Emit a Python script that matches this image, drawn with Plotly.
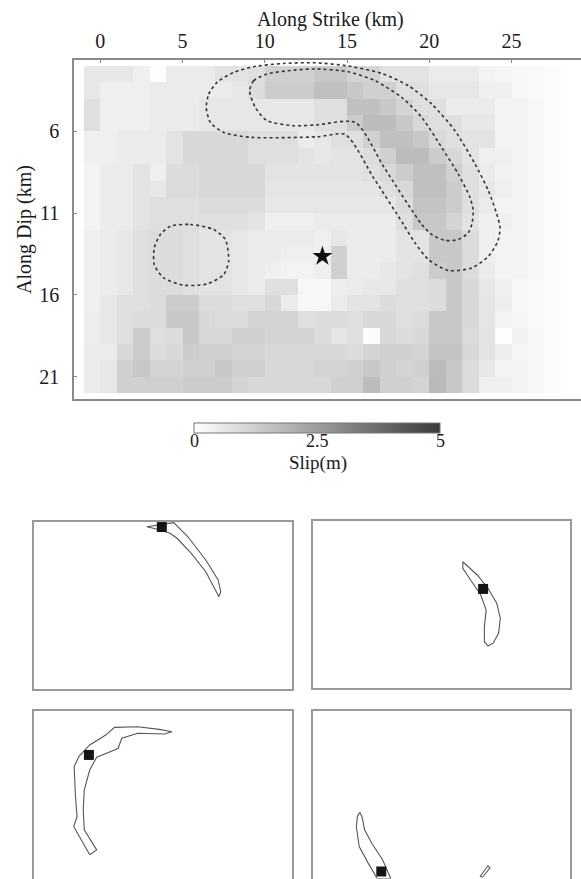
import plotly.graph_objects as go

# ---------------- data ----------------
strike_centers = [-0.5, 0.5, 1.5, 2.5, 3.5, 4.5, 5.5, 6.5, 7.5, 8.5, 9.5, 10.5, 11.5, 12.5,
                  13.5, 14.5, 15.5, 16.5, 17.5, 18.5, 19.5, 20.5, 21.5, 22.5, 23.5, 24.5,
                  25.5, 26.5, 27.5]
dip_centers = [2.5, 3.5, 4.5, 5.5, 6.5, 7.5, 8.5, 9.5, 10.5, 11.5, 12.5, 13.5, 14.5, 15.5,
               16.5, 17.5, 18.5, 19.5, 20.5, 21.5]

slip = [
    [0.6, 0.6, 0.6, 0.4, 0.05, 0.5, 0.5, 0.5, 0.7, 0.7, 0.8, 1.2, 1.2, 1.2, 1.4, 1.4, 1.1, 1.1, 0.7, 0.7, 0.7, 0.5, 0.5, 0.5, 0.3, 0.25, 0.2, 0.15, 0.1],
    [0.6, 0.4, 0.4, 0.4, 0.5, 0.5, 0.5, 0.5, 0.5, 0.6, 0.9, 1.3, 1.3, 1.3, 1.6, 1.6, 1.4, 1.2, 1.2, 0.8, 0.8, 0.6, 0.6, 0.6, 0.4, 0.4, 0.2, 0.15, 0.1],
    [0.8, 0.4, 0.4, 0.4, 0.5, 0.5, 0.5, 0.6, 0.6, 0.6, 0.6, 0.6, 0.6, 0.6, 0.8, 0.8, 1.6, 1.6, 1.4, 1.1, 0.8, 0.8, 0.5, 0.5, 0.5, 0.3, 0.3, 0.2, 0.1],
    [0.8, 0.4, 0.4, 0.4, 0.5, 0.5, 0.5, 0.6, 0.6, 0.6, 0.6, 0.6, 0.6, 0.6, 0.8, 0.8, 1.3, 1.7, 1.7, 1.4, 1.0, 0.8, 0.8, 0.6, 0.6, 0.3, 0.3, 0.2, 0.1],
    [0.4, 0.4, 0.5, 0.5, 0.5, 0.7, 1.0, 1.0, 1.0, 1.0, 0.8, 0.8, 0.8, 0.5, 0.6, 0.8, 0.8, 1.2, 1.6, 1.6, 1.4, 1.0, 0.8, 0.7, 0.7, 0.3, 0.3, 0.2, 0.1],
    [0.4, 0.4, 0.5, 0.5, 0.5, 0.7, 1.0, 1.0, 1.0, 1.0, 0.8, 0.8, 0.8, 0.7, 0.6, 0.7, 0.7, 0.9, 1.2, 1.7, 1.7, 1.3, 1.0, 0.7, 0.4, 0.4, 0.3, 0.2, 0.1],
    [0.3, 0.5, 0.5, 0.7, 0.4, 0.9, 0.9, 1.0, 1.0, 1.0, 1.0, 0.7, 0.7, 0.7, 0.7, 0.7, 0.7, 0.8, 1.0, 1.3, 1.6, 1.6, 1.2, 0.8, 0.5, 0.35, 0.3, 0.2, 0.1],
    [0.3, 0.5, 0.5, 0.7, 0.6, 0.9, 0.9, 1.0, 1.0, 1.0, 1.0, 0.65, 0.65, 0.65, 0.65, 0.65, 0.65, 0.65, 0.8, 1.0, 1.6, 1.6, 1.3, 0.8, 0.6, 0.4, 0.3, 0.2, 0.1],
    [0.3, 0.5, 0.5, 0.7, 0.8, 0.8, 0.8, 0.9, 0.9, 0.9, 0.9, 0.6, 0.6, 0.6, 0.6, 0.6, 0.6, 0.6, 0.6, 0.9, 1.5, 1.5, 1.3, 0.8, 0.5, 0.3, 0.3, 0.2, 0.1],
    [0.3, 0.5, 0.5, 0.7, 0.8, 0.8, 0.8, 0.8, 0.8, 0.8, 0.7, 0.4, 0.4, 0.4, 0.5, 0.5, 0.5, 0.5, 0.5, 0.8, 1.4, 1.4, 1.1, 0.7, 0.4, 0.4, 0.3, 0.2, 0.1],
    [0.4, 0.5, 0.6, 0.8, 0.9, 0.9, 0.8, 0.7, 0.7, 0.6, 0.5, 0.5, 0.5, 0.5, 0.4, 0.6, 0.5, 0.5, 0.5, 0.7, 0.7, 1.4, 1.4, 0.9, 0.4, 0.3, 0.3, 0.2, 0.1],
    [0.4, 0.5, 0.6, 0.8, 0.9, 0.9, 0.8, 0.7, 0.7, 0.6, 0.5, 0.5, 0.4, 0.4, 0.4, 1.2, 0.5, 0.5, 0.5, 0.7, 0.7, 1.4, 1.4, 0.9, 0.4, 0.3, 0.3, 0.2, 0.1],
    [0.4, 0.5, 0.6, 0.8, 0.9, 0.9, 0.8, 0.7, 0.7, 0.6, 0.5, 0.4, 0.3, 0.3, 0.4, 1.2, 0.5, 0.5, 0.6, 0.7, 0.8, 1.3, 1.4, 0.9, 0.5, 0.3, 0.3, 0.2, 0.1],
    [0.4, 0.5, 0.6, 0.8, 0.9, 0.9, 0.8, 0.7, 0.7, 0.6, 0.5, 0.8, 0.8, 0.2, 0.2, 0.45, 0.5, 0.6, 0.6, 0.8, 0.8, 0.9, 1.4, 1.0, 0.6, 0.4, 0.2, 0.15, 0.1],
    [0.4, 0.6, 0.8, 0.8, 0.9, 1.3, 1.3, 0.9, 0.9, 0.8, 0.8, 1.0, 0.5, 0.2, 0.2, 0.5, 0.7, 0.7, 0.9, 0.8, 0.8, 0.9, 1.4, 1.0, 0.65, 0.45, 0.2, 0.15, 0.1],
    [0.45, 0.6, 0.8, 0.9, 0.9, 1.4, 1.4, 1.0, 0.9, 0.9, 1.1, 1.1, 1.1, 0.8, 0.9, 0.9, 0.8, 1.0, 1.0, 0.8, 0.9, 1.4, 1.4, 1.0, 0.65, 0.3, 0.25, 0.15, 0.1],
    [0.45, 0.6, 0.8, 1.3, 0.8, 0.9, 1.4, 1.0, 1.0, 1.2, 1.2, 1.1, 1.1, 1.1, 0.9, 0.65, 0.8, 0.1, 1.0, 0.9, 1.0, 1.4, 1.4, 0.9, 0.7, 0.05, 0.35, 0.2, 0.1],
    [0.5, 0.5, 1.0, 1.3, 0.9, 1.0, 1.3, 1.2, 1.2, 1.1, 1.1, 1.0, 1.0, 1.0, 1.0, 1.0, 0.9, 1.1, 1.2, 1.2, 1.1, 1.5, 1.5, 1.0, 0.7, 0.45, 0.25, 0.2, 0.1],
    [0.5, 0.6, 1.2, 1.4, 1.1, 1.1, 1.2, 1.2, 1.4, 1.2, 1.2, 1.0, 1.0, 1.0, 1.1, 1.1, 1.2, 1.4, 1.2, 1.1, 1.2, 1.7, 1.4, 0.9, 0.6, 0.3, 0.3, 0.2, 0.1],
    [0.5, 0.6, 1.2, 1.2, 1.2, 1.2, 1.3, 1.3, 1.3, 1.1, 1.0, 1.0, 1.0, 1.0, 1.0, 1.2, 1.2, 1.7, 1.2, 1.2, 1.1, 1.75, 1.4, 0.9, 0.4, 0.4, 0.3, 0.2, 0.1],
]

x_ticks = [0, 5, 10, 15, 20, 25]
y_ticks = [6, 11, 16, 21]
cbar_ticks = [0, 2.5, 5]
cbar_labels = ["0", "2.5", "5"]
slip_max = 5

# contours (km along strike, km along dip)
outer_x = [6.44, 6.59, 7.09, 8.11, 9.32, 11.15, 13.1, 15.08, 17.1, 18.72, 20.15, 21.56, 22.78,
           23.59, 24.1, 24.3, 24.16, 23.59, 22.58, 21.16, 19.95, 19.13, 18.43, 16.6, 14.9,
           13.17, 9.12, 7.5, 6.69, 6.44]
outer_y = [4.53, 3.72, 3.0, 2.39, 2.04, 1.84, 1.8, 2.0, 2.45, 3.2, 4.33, 5.96, 8.0,
           9.63, 11.06, 11.9, 12.72, 13.64, 14.35, 14.51, 13.84, 12.82, 11.69, 8.82, 6.2,
           6.33, 6.36, 6.06, 5.45, 4.53]
inner_x = [9.08, 9.32, 10.13, 11.75, 13.1, 15.08, 16.7, 18.32, 19.54, 20.75, 21.76, 22.47,
           22.67, 22.58, 22.37, 21.76, 20.95, 20.15, 19.54, 17.25, 15.5, 13.17, 11.75, 10.13,
           9.42, 9.08]
inner_y = [3.5, 2.9, 2.49, 2.25, 2.18, 2.35, 2.9, 3.92, 5.14, 6.98, 8.61, 10.04,
           10.86, 11.69, 12.2, 12.61, 12.67, 12.31, 11.69, 8.2, 5.45, 5.6, 5.65, 5.34,
           4.53, 3.5]
loop_x = [4.26, 5.47, 6.89, 7.6, 7.8, 7.5, 6.49, 5.07, 3.85, 3.28, 3.28, 3.65, 4.26]
loop_y = [11.8, 11.69, 12.0, 12.61, 13.94, 14.76, 15.33, 15.41, 14.96, 14.15, 13.12, 12.31, 11.8]

hypo_x = [13.5]
hypo_y = [13.64]

# small panels: outline (fraction of panel width, fraction of panel height from top)
p1_u = [0.438, 0.542, 0.597, 0.666, 0.714, 0.724, 0.717, 0.704, 0.666, 0.610, 0.555, 0.528, 0.479, 0.438]
p1_v = [0.030, 0.006, 0.090, 0.229, 0.348, 0.418, 0.448, 0.408, 0.299, 0.189, 0.099, 0.069, 0.045, 0.030]
p1_sq = ([0.496], [0.032])

p2_u = [0.583, 0.639, 0.681, 0.715, 0.729, 0.722, 0.701, 0.681, 0.667, 0.667, 0.674, 0.653, 0.618, 0.583, 0.583]
p2_v = [0.245, 0.324, 0.403, 0.493, 0.582, 0.672, 0.731, 0.748, 0.722, 0.632, 0.533, 0.443, 0.364, 0.284, 0.245]
p2_sq = ([0.662], [0.407])

p3_u = [0.217, 0.155, 0.168, 0.162, 0.157, 0.175, 0.217, 0.279, 0.313, 0.403, 0.486, 0.535, 0.507,
        0.403, 0.341, 0.327, 0.313, 0.244, 0.217, 0.196, 0.192, 0.196, 0.244, 0.217]
p3_v = [0.858, 0.689, 0.630, 0.510, 0.331, 0.271, 0.201, 0.142, 0.096, 0.092, 0.108, 0.122, 0.136,
        0.131, 0.161, 0.221, 0.231, 0.275, 0.351, 0.470, 0.590, 0.709, 0.829, 0.858]
p3_sq = ([0.214], [0.261])

p4_u = [0.180, 0.173, 0.169, 0.180, 0.215, 0.250, 0.303, 0.271, 0.229, 0.201, 0.191, 0.183, 0.180]
p4_v = [0.609, 0.630, 0.689, 0.809, 0.908, 1.0, 1.0, 0.888, 0.789, 0.709, 0.630, 0.606, 0.609]
p4b_u = [0.650, 0.681, 0.689, 0.660, 0.650]
p4b_v = [0.988, 0.924, 0.938, 0.991, 0.988]
p4_sq = ([0.266], [0.958])

# ---------------- figure ----------------
W, H = 581, 879
FONT = "Liberation Serif, Times New Roman, serif"
TXT = "#1a1a1a"
FRAME = "#8a8a8a"

CB_CENTER, CB_LEN, CB_TOP = 317.5, 246, 422.7

fig = go.Figure()

fig.add_trace(go.Heatmap(
    x=strike_centers, y=dip_centers, z=slip, zmin=0, zmax=slip_max,
    colorscale=[[0, "#ffffff"], [1, "#3a3a3a"]],
    xaxis="x", yaxis="y", hoverinfo="skip",
    colorbar=dict(
        orientation="h", x=CB_CENTER / W, xanchor="center", y=1 - CB_TOP / H, yanchor="top",
        len=CB_LEN, lenmode="pixels", thickness=10, thicknessmode="pixels",
        outlinecolor="#777777", outlinewidth=1, xpad=0, ypad=0,
        tickvals=cbar_ticks, ticks="", showticklabels=False,
    ),
))

contour_line = dict(color="#333333", width=1.6, dash="dot", shape="spline", smoothing=0.7)
for cx, cy in [(outer_x, outer_y), (inner_x, inner_y), (loop_x, loop_y)]:
    fig.add_trace(go.Scatter(x=cx, y=cy, mode="lines", line=contour_line,
                             xaxis="x", yaxis="y", showlegend=False, hoverinfo="skip"))

fig.add_trace(go.Scatter(x=hypo_x, y=hypo_y, mode="markers",
                         marker=dict(symbol="star", size=15, color="#111111"),
                         xaxis="x", yaxis="y", showlegend=False))

panels = [
    ("x2", "y2", [(p1_u, p1_v)], p1_sq),
    ("x3", "y3", [(p2_u, p2_v)], p2_sq),
    ("x4", "y4", [(p3_u, p3_v)], p3_sq),
    ("x5", "y5", [(p4_u, p4_v), (p4b_u, p4b_v)], p4_sq),
]
for xa, ya, shapes, sq in panels:
    for su, sv in shapes:
        fig.add_trace(go.Scatter(x=su, y=sv, mode="lines",
                                 line=dict(color="#555555", width=1.1),
                                 xaxis=xa, yaxis=ya, showlegend=False, hoverinfo="skip"))
    fig.add_trace(go.Scatter(x=sq[0], y=sq[1], mode="markers",
                             marker=dict(symbol="square", size=10, color="#151515"),
                             xaxis=xa, yaxis=ya, showlegend=False, cliponaxis=False))

main_x = dict(
    domain=[74 / W, 1.0], range=[-1.6, 29.22], side="top",
    tickvals=x_ticks, ticks="inside", ticklen=3, tickcolor=FRAME,
    showline=True, linecolor=FRAME, linewidth=1.5, mirror=True,
    showgrid=False, zeroline=False, automargin=False, ticklabelstandoff=2,
    tickfont=dict(family=FONT, size=20, color=TXT), anchor="y",
)
main_y = dict(
    domain=[1 - 399 / H, 1 - 60 / H], range=[22.37, 1.63],
    tickvals=y_ticks, ticks="inside", ticklen=3, tickcolor=FRAME,
    showline=True, linecolor=FRAME, linewidth=1.5, mirror=False,
    showgrid=False, zeroline=False, automargin=False, ticklabelstandoff=9,
    tickfont=dict(family=FONT, size=20, color=TXT), anchor="x",
)


def panel_axes(x0, x1, ytop, ybot, n):
    xa = dict(domain=[x0 / W, x1 / W], range=[0, 1], showline=True, linecolor="#999999",
              linewidth=1.5, mirror=True, showticklabels=False, ticks="", showgrid=False,
              zeroline=False, anchor="y%d" % n, automargin=False)
    ya = dict(domain=[max(0, 1 - ybot / H), 1 - ytop / H], range=[1, 0], showline=True,
              linecolor="#999999", linewidth=1.5, mirror=True, showticklabels=False,
              ticks="", showgrid=False, zeroline=False, anchor="x%d" % n, automargin=False)
    return xa, ya


xa2, ya2 = panel_axes(33.6, 292.1, 521.7, 689.0, 2)
xa3, ya3 = panel_axes(312.9, 570.0, 520.7, 688.3, 3)
xa4, ya4 = panel_axes(33.6, 292.1, 711.3, 878.5, 4)
xa5, ya5 = panel_axes(312.9, 570.0, 711.3, 878.5, 5)

annotations = [
    dict(text="Along Strike (km)", x=330 / W, y=1 - 20 / H, xref="paper", yref="paper",
         showarrow=False, xanchor="center", yanchor="middle",
         font=dict(family=FONT, size=20, color=TXT)),
    dict(text="Along Dip (km)", x=25 / W, y=1 - 230 / H, xref="paper", yref="paper",
         showarrow=False, xanchor="center", yanchor="middle", textangle=-90,
         font=dict(family=FONT, size=20, color=TXT)),
    dict(text="Slip(m)", x=CB_CENTER / W, y=1 - 463 / H, xref="paper", yref="paper",
         showarrow=False, xanchor="center", yanchor="middle",
         font=dict(family=FONT, size=19, color=TXT)),
]
# colour-bar tick labels, placed along the bar by value
cb_left = CB_CENTER - CB_LEN / 2
for v, lab in zip(cbar_ticks, cbar_labels):
    annotations.append(dict(
        text=lab, x=(cb_left + CB_LEN * v / slip_max) / W, y=1 - 441 / H,
        xref="paper", yref="paper", showarrow=False, xanchor="center", yanchor="middle",
        font=dict(family=FONT, size=18, color=TXT)))

fig.update_layout(
    width=W, height=H, margin=dict(l=0, r=0, t=0, b=0),
    paper_bgcolor="white", plot_bgcolor="white", showlegend=False,
    xaxis=main_x, yaxis=main_y,
    xaxis2=xa2, yaxis2=ya2, xaxis3=xa3, yaxis3=ya3,
    xaxis4=xa4, yaxis4=ya4, xaxis5=xa5, yaxis5=ya5,
    annotations=annotations,
)

fig.write_html("out.html", config={"displayModeBar": False},
               post_script="document.body.style.margin='0px';"
                           "document.body.style.overflow='hidden';")
